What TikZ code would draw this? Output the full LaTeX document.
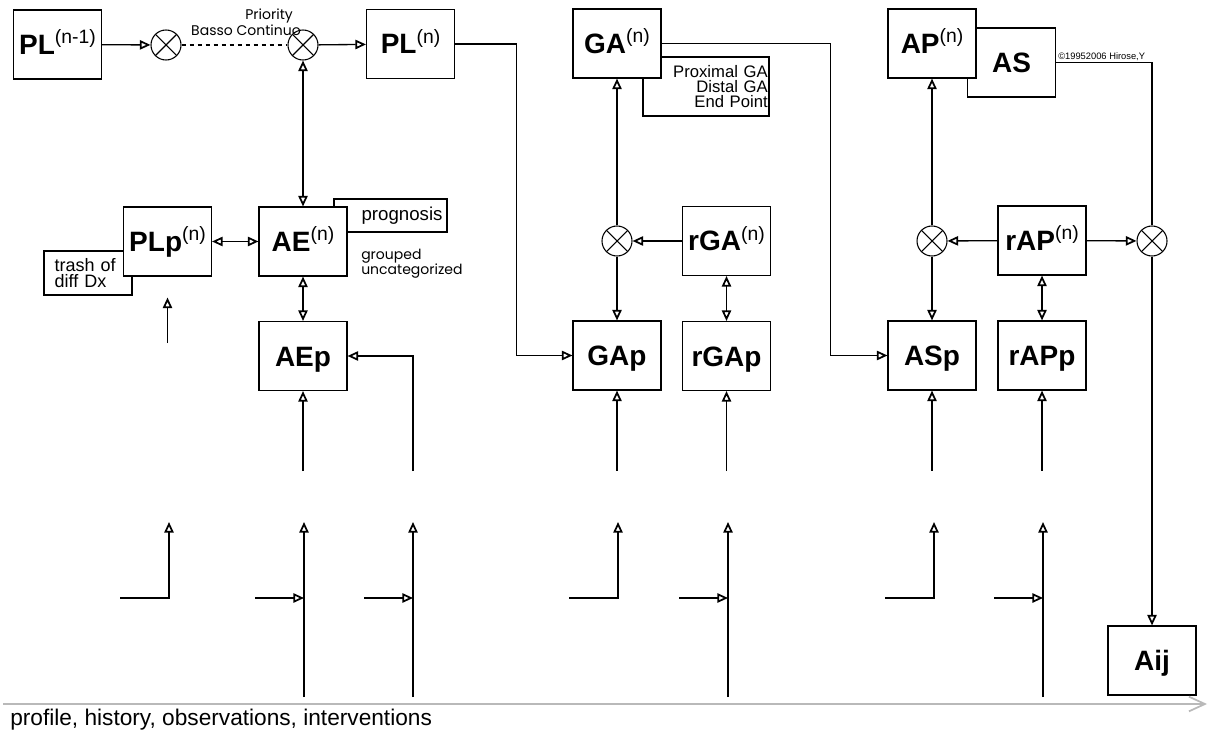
\documentclass[tikz,border=0pt]{standalone}
\usepackage{fontspec}
\setmainfont{Liberation Sans}
\newfontfamily\handfont{Poppins}
\usetikzlibrary{arrows.meta}
\newcommand\upn[1]{\raisebox{8pt}{\fontsize{14.5}{14.5}\selectfont\mdseries(#1)}}

\begin{document}
\begin{tikzpicture}[x=0.75pt,y=-0.75pt,
  box/.style={draw,line width=0.8pt,fill=white,minimum width=66pt,minimum height=51.75pt,
    inner sep=0pt,text height=15pt,text depth=0pt,font=\fontsize{21}{21}\selectfont\bfseries},
  note/.style={draw,line width=0.8pt,fill=white},
  mult/.style={draw,line width=0.8pt,circle,minimum size=22.5pt,inner sep=0pt,
    path picture={\draw[line width=0.8pt] (path picture bounding box.north west)--(path picture bounding box.south east)
      (path picture bounding box.north east)--(path picture bounding box.south west);}},
  flow/.style={line width=1pt,-{Triangle[open,length=8pt,width=7pt,line width=1.3pt]}},
  both/.style={line width=1pt,{Triangle[open,length=8pt,width=7pt,line width=1.3pt]}-{Triangle[open,length=8pt,width=7pt,line width=1.3pt]}},
  wire/.style={line width=0.8pt},
  hand/.style={inner sep=0pt,font=\handfont\fontsize{10.5}{11.5}\selectfont}]
  \useasboundingbox (0,0) rectangle (1209,741);

  % top row
  \node[box] (plprev) at (57.5,44.5) {PL\upn{n-1}};
  \node[mult] (m1) at (166,45) {};
  \node[mult] (m2) at (303,45) {};
  \node[box] (pln) at (410.5,44) {PL\upn{n}};
  \node[hand,align=right,anchor=north east] (prio) at (301,9) {Priority\hspace*{6pt}\\Basso Continuo};
  \node[note,minimum width=94.5pt,minimum height=44.25pt,text width=92.5pt,inner xsep=1pt,align=right,
    font=\fontsize{12.5}{11}\selectfont] (gatext) at (706,86.5) {Proximal GA\\Distal GA\\End Point};
  \node[box] (gan) at (617,43.5) {GA\upn{n}};
  \node[box] (as) at (1011.5,62.5) {AS};
  \node[box] (apn) at (932,43.5) {AP\upn{n}};
  \node[anchor=south west,inner sep=0pt,font=\fontsize{7}{7}\selectfont] (copy) at (1058,61) {©19952006 Hirose,Y};

  % middle row
  \node[note,minimum width=66pt,minimum height=33pt,text width=50pt,inner xsep=8pt,align=left,
    font=\fontsize{13.5}{12}\selectfont] (trash) at (88,273) {trash of\\diff Dx};
  \node[box] (plp) at (167.5,241.5) {PLp\upn{n}};
  \node[note,minimum width=84.75pt,minimum height=24.75pt,text width=78pt,inner xsep=3.375pt,align=right,
    font=\fontsize{14}{12}\selectfont] (prog) at (390.5,215.5) {prognosis};
  \node[box] (aen) at (303,241.5) {AE\upn{n}};
  \node[hand,align=left,anchor=west] (grp) at (361,264) {grouped\\uncategorized};
  \node[mult] (m3) at (617,241) {};
  \node[box] (rgan) at (726.5,241) {rGA\upn{n}};
  \node[mult] (m4) at (932,241) {};
  \node[box] (rapn) at (1042,240.5) {rAP\upn{n}};
  \node[mult] (m5) at (1152,241) {};

  % p row
  \node[box] (aep) at (303,356) {AEp};
  \node[box] (gap) at (617,355.5) {GAp};
  \node[box] (rgap) at (726.5,356) {rGAp};
  \node[box] (asp) at (932,355.5) {ASp};
  \node[box] (rapp) at (1042,355.5) {rAPp};
  \node[box] (aij) at (1152,660.5) {Aij};

  % links
  \draw[flow] (plprev) -- (m1);
  \draw[wire,dash pattern=on 3.5pt off 2.5pt] (m1) -- (m2);
  \draw[flow] (m2) -- (pln);
  \draw[both] (m2) -- (aen);
  \draw[both] (plp) -- (aen);
  \draw[both] (aen) -- (aep);
  \draw[flow,wire] (pln.east) -- ++(61,0) |- (gap.west);
  \draw[flow,wire] (gan.east) -- ++(169,0) |- (asp.west);
  \draw[flow] (m3) -- (gan);
  \draw[flow] (rgan) -- (m3);
  \draw[flow] (m3) -- (gap);
  \draw[both] (rgan) -- (rgap);
  \draw[flow] (m4) -- (apn);
  \draw[flow] (rapn) -- (m4);
  \draw[flow] (m4) -- (asp);
  \draw[both] (rapn) -- (rapp);
  \draw[flow] (rapn) -- (m5);
  \draw[wire] (as.east) -| (m5.north);
  \draw[flow,wire] (m5) -- (aij);

  % inputs
  \draw[flow] ([yshift=-50pt]plp.south) -- ([yshift=-15.75pt]plp.south);
  \draw[flow] ([yshift=-60pt]aep.south) -- (aep.south);
  \coordinate (aein) at (413,471);
  \draw[flow] (aein) |- (aep.east);
  \draw[flow] ([yshift=-60pt]gap.south) -- (gap.south);
  \draw[flow] ([yshift=-60pt]rgap.south) -- (rgap.south);
  \draw[flow] ([yshift=-60pt]asp.south) -- (asp.south);
  \draw[flow] ([yshift=-60pt]rapp.south) -- (rapp.south);

  \foreach \x/\n in {169/a,618/b,934/c} {
    \coordinate (tip\n) at (\x,522);
    \coordinate (tail\n) at (\x-49,598);
    \draw[flow] (tail\n) -| (tip\n);
  }
  \foreach \x/\n in {304/d,413/e,728/f,1043/g} {
    \coordinate (tip\n) at (\x,522);
    \coordinate (foot\n) at (\x,697);
    \coordinate (side\n) at (\x-49,598);
    \draw[flow] (foot\n) -- (tip\n);
    \draw[flow] (side\n) -- (\x,598);
  }

  % time line
  \coordinate (t0) at (3,704);
  \coordinate (t1) at (1207,704);
  \draw[gray!55,line width=1.3pt,-{Straight Barb[length=12pt,width=11pt]}] (t0) -- (t1);
  \node[anchor=west,inner sep=0pt,font=\fontsize{17}{17}\selectfont] (axis) at (10,720)
    {profile, history, observations, interventions};
\end{tikzpicture}
\end{document}
